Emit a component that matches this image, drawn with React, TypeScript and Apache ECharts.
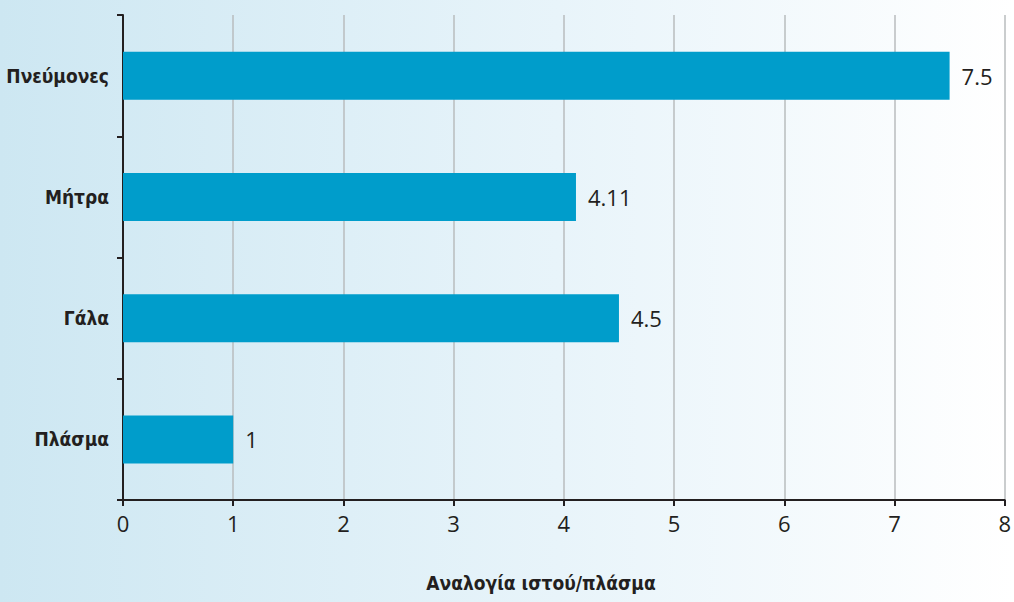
import React, { useEffect, useRef } from "react";
import * as echarts from "echarts";

const categories = ["Πλάσμα", "Γάλα", "Μήτρα", "Πνεύμονες"];
const values = [1, 4.5, 4.11, 7.5];
const xTicks = [0, 1, 2, 3, 4, 5, 6, 7, 8];
const axisTitle = "Αναλογία ιστού/πλάσμα";

const condensed = "'DejaVu Sans Condensed', 'Liberation Sans Narrow', 'Roboto', sans-serif";

export default function App() {
  const ref = useRef<HTMLDivElement>(null);
  useEffect(() => {
    document.body.style.margin = "0";
    const chart = echarts.init(ref.current!, null, { renderer: "svg" });
    chart.setOption({
      animation: false,
      backgroundColor: new echarts.graphic.LinearGradient(0, 0, 1, 0, [
        { offset: 0, color: "#cde7f2" },
        { offset: 0.55, color: "#e8f4fa" },
        { offset: 1, color: "#ffffff" },
      ]),
      grid: { left: 123, right: 7, top: 15, bottom: 102, containLabel: false },
      xAxis: {
        type: "value",
        min: xTicks[0],
        max: xTicks[xTicks.length - 1],
        interval: 1,
        axisLine: { show: true, lineStyle: { color: "#231f20", width: 2 } },
        axisTick: { show: true, length: 6, lineStyle: { color: "#231f20", width: 2 } },
        axisLabel: {
          color: "#231f20",
          fontSize: 22,
          margin: 12,
          fontFamily: "'Open Sans', sans-serif",
        },
        splitLine: { show: true, lineStyle: { color: "#b9bcbe", width: 1.5 } },
      },
      yAxis: {
        type: "category",
        data: categories,
        axisLine: { show: true, lineStyle: { color: "#231f20", width: 2 } },
        axisTick: { show: true, length: 6, lineStyle: { color: "#231f20", width: 2 } },
        axisLabel: {
          color: "#231f20",
          fontSize: 19,
          fontWeight: "bold",
          margin: 14,
          fontFamily: condensed,
        },
        splitLine: { show: false },
      },
      series: [
        {
          type: "bar",
          data: values,
          barWidth: 48,
          itemStyle: { color: "#009dcb" },
          label: {
            show: true,
            position: "right",
            distance: 12,
            color: "#231f20",
            fontSize: 22,
            fontFamily: "'Open Sans', sans-serif",
            formatter: (p: any) => String(p.value),
          },
        },
      ],
      graphic: [
        {
          type: "text",
          x: 541,
          y: 583,
          style: {
            text: axisTitle,
            fill: "#231f20",
            fontSize: 19,
            fontWeight: "bold",
            fontFamily: condensed,
            textAlign: "center",
            textVerticalAlign: "middle",
          },
        },
      ],
    });
    return () => chart.dispose();
  }, []);
  return <div ref={ref} style={{ width: 1014, height: 602 }} />;
}
